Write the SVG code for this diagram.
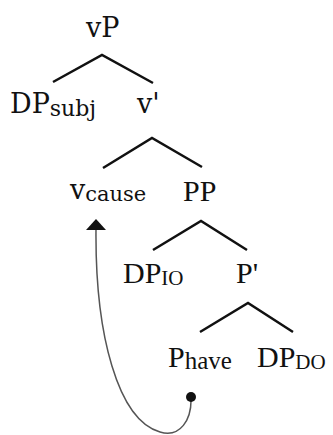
<svg xmlns="http://www.w3.org/2000/svg" width="333" height="435" viewBox="0 0 333 435">
<style>
.up{font-family:"DejaVu Serif","Liberation Serif",serif;fill:#111}
.lo{font-family:"Liberation Serif","Times New Roman",serif;fill:#111}
.m{font-size:27px}
.ml{font-size:30px}
.br{fill:none;stroke:#111;stroke-width:2.5;stroke-linejoin:miter}
.mv{fill:none;stroke:#555;stroke-width:1.5}
</style>
<rect width="333" height="435" fill="#fff"/>
<g id="branches">
<polyline class="br" points="53,82 102,55 153,83"/>
<polyline class="br" points="103,168 152,138 202,167"/>
<polyline class="br" points="153,250 201,221 247,250"/>
<polyline class="br" points="200,332 248,303 293,332"/>
</g>
<g id="connectors">
<path class="mv" d="M96 229 C 95 335, 118 420, 160 432 C 180 438, 192 420, 191 397"/>
<polygon points="96,219 86,230 106,230" fill="#111"/>
<circle cx="191" cy="397" r="5" fill="#111"/>
</g>
<g id="vP"><text class="up m" x="86" y="37">vP</text></g>
<g id="DPsubj"><text class="up m" x="10" y="113">DP<tspan font-size="22" dy="3">subj</tspan></text></g>
<g id="vbar"><text class="up m" x="137" y="113">v'</text></g>
<g id="vcause"><text class="up m" x="70" y="199">v<tspan font-size="21" dy="2">cause</tspan></text></g>
<g id="PP"><text class="lo ml" x="183" y="201" font-size="31">PP</text></g>
<g id="DPIO"><text class="lo ml" x="123" y="283">DP<tspan font-size="21" dy="2">IO</tspan></text></g>
<g id="Pbar"><text class="lo ml" x="236" y="283">P'</text></g>
<g id="Phave"><text class="lo ml" x="168" y="367">P<tspan font-size="25" dy="2">have</tspan></text></g>
<g id="DPDO"><text class="lo ml" x="257" y="367">DP<tspan font-size="21" dy="2">DO</tspan></text></g>
</svg>
